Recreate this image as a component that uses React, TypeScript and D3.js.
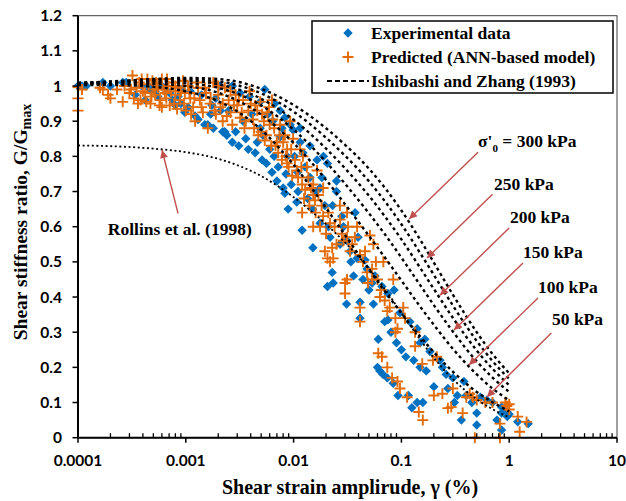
import React from 'react';
import * as d3 from 'd3';

// ---------- data ----------
const xTickValues = [0.0001, 0.001, 0.01, 0.1, 1, 10];
const xTickLabels = ['0.0001', '0.001', '0.01', '0.1', '1', '10'];
const yTickValues = [0, 0.1, 0.2, 0.3, 0.4, 0.5, 0.6, 0.7, 0.8, 0.9, 1, 1.1, 1.2];
const yTickLabels = ['0', '0.1', '0.2', '0.3', '0.4', '0.5', '0.6', '0.7', '0.8', '0.9', '1', '1.1', '1.2'];

// shear strain (%) grid for the reference curves
const curveStrain = [0.0001, 0.0002, 0.0005, 0.001, 0.002, 0.005, 0.01, 0.02, 0.03, 0.05, 0.07, 0.1, 0.15, 0.2, 0.3, 0.5, 0.7, 1.0];
const iz50 = [1.003, 1.003, 0.998, 0.985, 0.957, 0.876, 0.776, 0.653, 0.576, 0.479, 0.417, 0.354, 0.287, 0.243, 0.188, 0.130, 0.101, 0.075];
const iz100 = [1.005, 1.007, 1.006, 1.000, 0.981, 0.919, 0.838, 0.733, 0.664, 0.574, 0.513, 0.447, 0.372, 0.321, 0.253, 0.180, 0.140, 0.106];
const iz150 = [1.007, 1.009, 1.011, 1.008, 0.995, 0.945, 0.876, 0.784, 0.722, 0.638, 0.579, 0.512, 0.433, 0.377, 0.302, 0.217, 0.171, 0.130];
const iz200 = [1.008, 1.011, 1.015, 1.015, 1.005, 0.964, 0.904, 0.822, 0.766, 0.688, 0.630, 0.564, 0.482, 0.423, 0.341, 0.248, 0.196, 0.149];
const iz250 = [1.009, 1.012, 1.018, 1.019, 1.013, 0.979, 0.927, 0.853, 0.802, 0.729, 0.673, 0.607, 0.524, 0.463, 0.376, 0.275, 0.218, 0.167];
const iz300 = [1.009, 1.013, 1.020, 1.023, 1.020, 0.992, 0.946, 0.880, 0.833, 0.765, 0.711, 0.646, 0.562, 0.498, 0.407, 0.300, 0.238, 0.183];
const rollins = [0.831, 0.829, 0.822, 0.812, 0.793, 0.744, 0.684, 0.607, 0.555, 0.481, 0.423, 0.355, 0.278, 0.227, 0.167, 0.109, 0.081, 0.058];

// experimental data [strain %, G/Gmax]
const experimental: [number, number][] = [
  [0.0001, 1.0], [0.000109, 1.0], [0.000119, 1.0], [0.00017, 1.01], [0.0002, 1.0], [0.00026, 1.01], [0.00028, 1.01],
  [0.00039, 1.0], [0.00047, 0.99], [0.0006, 1.0], [0.00071, 0.98], [0.0008, 0.945], [0.00092, 0.99], [0.00098, 0.925],
  [0.00085, 0.97], [0.00055, 0.97], [0.00034, 0.975], [0.00042, 0.96],
  [0.00122, 0.915], [0.0014, 0.975], [0.0016, 0.89], [0.0019, 0.965], [0.0015, 0.89], [0.0022, 0.87], [0.00208, 1.0],
  [0.0023, 0.87], [0.0027, 1.0], [0.0027, 0.84], [0.0032, 0.98], [0.0025, 0.93], [0.00175, 0.945],
  [0.0038, 0.82], [0.0039, 0.97], [0.0044, 0.81], [0.0049, 0.955], [0.0051, 0.79], [0.0049, 0.88], [0.0054, 0.99],
  [0.0063, 0.755], [0.0064, 0.9], [0.0067, 0.95], [0.007, 0.73], [0.0075, 0.93], [0.0075, 0.855], [0.008, 0.71],
  [0.0083, 0.91], [0.0083, 0.695], [0.0089, 0.65], [0.0093, 0.89], [0.0087, 0.8], [0.0099, 0.875], [0.006, 0.82],
  [0.0107, 0.67], [0.0109, 0.755], [0.0115, 0.88], [0.0115, 0.84], [0.0122, 0.81], [0.012, 0.59], [0.0142, 0.83],
  [0.0142, 0.74], [0.015, 0.65], [0.0151, 0.54], [0.0165, 0.79], [0.0176, 0.71], [0.0176, 0.61], [0.0183, 0.74],
  [0.0189, 0.8], [0.0206, 0.78], [0.0206, 0.43], [0.0218, 0.57], [0.0228, 0.47], [0.0233, 0.44], [0.025, 0.73],
  [0.025, 0.7], [0.028, 0.63], [0.031, 0.38],
  [0.0313, 0.56], [0.0334, 0.53], [0.0372, 0.64], [0.0388, 0.51], [0.0396, 0.57], [0.0413, 0.385], [0.0413, 0.34],
  [0.046, 0.505], [0.048, 0.48], [0.0535, 0.44], [0.057, 0.46], [0.061, 0.28], [0.063, 0.19], [0.066, 0.43],
  [0.0675, 0.18], [0.074, 0.17], [0.075, 0.41], [0.075, 0.335], [0.084, 0.155], [0.0855, 0.42], [0.093, 0.12],
  [0.097, 0.355], [0.06, 0.2],
  [0.116, 0.12], [0.12, 0.33], [0.14, 0.1], [0.14, 0.31], [0.149, 0.27], [0.158, 0.1], [0.149, 0.2], [0.2, 0.145],
  [0.24, 0.2], [0.26, 0.18], [0.184, 0.245], [0.165, 0.28], [0.125, 0.085], [0.228, 0.22],
  [0.3, 0.17], [0.31, 0.1], [0.36, 0.05], [0.38, 0.16], [0.45, 0.1], [0.5, 0.07], [0.5, 0.036], [0.54, 0.115],
  [0.62, 0.107], [0.7, 0.1], [0.85, 0.087], [0.85, 0.07], [0.85, 0.022], [0.92, 0.079], [0.95, 0.073], [0.96, 0.06],
  [1.0, 0.067], [1.2, 0.045], [1.5, 0.04], [0.77, 0.05],
  [0.00045, 1.0], [0.00052, 0.985], [0.00065, 0.99], [0.00075, 0.96], [0.0009, 0.95], [0.00105, 0.94], [0.0011, 0.985],
  [0.0013, 0.905], [0.0017, 0.92], [0.0018, 0.88], [0.0021, 0.93], [0.0024, 0.86], [0.0029, 0.87], [0.0031, 0.83],
  [0.0034, 0.9], [0.0036, 0.85], [0.0041, 0.92], [0.0046, 0.84], [0.0052, 0.86], [0.0056, 0.78], [0.0058, 0.92],
  [0.0066, 0.8], [0.0072, 0.77], [0.0078, 0.88], [0.0085, 0.75], [0.0095, 0.72], [0.0102, 0.8], [0.011, 0.7],
  [0.0128, 0.77], [0.0135, 0.68], [0.016, 0.7], [0.0195, 0.66], [0.021, 0.6], [0.023, 0.66], [0.027, 0.55],
  [0.029, 0.6], [0.034, 0.5], [0.036, 0.46], [0.044, 0.45], [0.05, 0.42], [0.055, 0.38], [0.07, 0.33], [0.08, 0.3],
  [0.09, 0.27], [0.1, 0.25], [0.11, 0.23], [0.13, 0.22], [0.17, 0.19], [0.27, 0.14], [0.33, 0.12], [0.4, 0.12],
];

// ANN-predicted data [strain %, G/Gmax]
const predicted: [number, number][] = [
  [0.0001, 0.997], [0.0001, 0.965], [0.0001, 0.93], [0.000109, 0.99], [0.00016, 0.995], [0.00017, 0.99], [0.00019, 0.975],
  [0.0002, 0.965], [0.00023, 0.99], [0.00026, 0.955], [0.00027, 1.0], [0.0003, 0.98],
  [0.00032, 1.03], [0.00035, 0.995], [0.00038, 0.96], [0.00039, 1.02], [0.00042, 0.98], [0.00045, 1.005], [0.00047, 0.95],
  [0.00049, 1.015], [0.00052, 0.975], [0.00055, 0.995], [0.00058, 0.96], [0.0006, 1.02], [0.00064, 0.98], [0.00069, 1.0],
  [0.00071, 0.945], [0.00075, 1.01], [0.0008, 0.975], [0.00085, 0.995], [0.00088, 0.96], [0.00094, 1.015], [0.00098, 0.98],
  [0.00036, 0.95], [0.0006, 0.94],
  [0.00105, 1.0], [0.0011, 0.965], [0.00117, 0.94], [0.00122, 0.9], [0.0013, 0.995], [0.00135, 0.96], [0.00144, 0.925],
  [0.00154, 0.98], [0.0016, 0.88], [0.00168, 0.95], [0.0018, 1.01], [0.0019, 0.92], [0.002, 0.975], [0.0021, 0.94],
  [0.0022, 0.9], [0.0023, 0.995], [0.0025, 0.96], [0.0026, 0.925], [0.0027, 0.89], [0.0029, 0.975], [0.003, 0.945],
  [0.0032, 0.91],
  [0.0034, 0.96], [0.0035, 0.88], [0.0038, 0.93], [0.0039, 0.985], [0.0042, 0.905], [0.0044, 0.945], [0.0047, 0.86],
  [0.0049, 0.955], [0.0051, 0.92], [0.0054, 0.845], [0.0057, 0.925], [0.006, 0.89], [0.0063, 0.96], [0.0064, 0.905],
  [0.0068, 0.83], [0.007, 0.84], [0.0075, 0.89], [0.0078, 0.79], [0.0083, 0.86], [0.0087, 0.82], [0.0087, 0.78],
  [0.0093, 0.9], [0.0097, 0.745], [0.0099, 0.85],
  [0.0107, 0.76], [0.0115, 0.82], [0.012, 0.72], [0.0122, 0.8], [0.0128, 0.705], [0.0133, 0.77], [0.012, 0.64],
  [0.0152, 0.72], [0.0152, 0.69], [0.0158, 0.675], [0.0152, 0.6], [0.0165, 0.76], [0.0176, 0.6], [0.0188, 0.71],
  [0.0188, 0.63], [0.0195, 0.53], [0.0206, 0.51], [0.0218, 0.61], [0.0218, 0.5], [0.0228, 0.54], [0.0233, 0.51],
  [0.0269, 0.66], [0.028, 0.58], [0.03, 0.44], [0.03, 0.41],
  [0.0313, 0.64], [0.0313, 0.57], [0.0313, 0.45], [0.0334, 0.53], [0.0388, 0.6], [0.0413, 0.52], [0.0413, 0.37],
  [0.0413, 0.33], [0.048, 0.47], [0.049, 0.44], [0.0511, 0.575], [0.0535, 0.48], [0.0535, 0.45], [0.055, 0.55],
  [0.061, 0.24], [0.0633, 0.4], [0.066, 0.23], [0.068, 0.5], [0.074, 0.36], [0.074, 0.2], [0.082, 0.17], [0.084, 0.45],
  [0.088, 0.34], [0.088, 0.3], [0.092, 0.31], [0.092, 0.16], [0.097, 0.14],
  [0.104, 0.37], [0.108, 0.34], [0.113, 0.115], [0.134, 0.3], [0.134, 0.26], [0.145, 0.073], [0.156, 0.21],
  [0.158, 0.05], [0.196, 0.22], [0.213, 0.23], [0.2, 0.12], [0.24, 0.125], [0.27, 0.084], [0.29, 0.087], [0.3, 0.14],
  [0.37, 0.07], [0.4, 0.115], [0.46, 0.115], [0.48, 0.0], [0.5, 0.107], [0.6, 0.1], [0.7, 0.1], [0.82, 0.04],
  [0.82, 0.0], [0.92, 0.1], [0.95, 0.09], [1.0, 0.095], [1.0, 0.08], [1.2, 0.06], [1.25, 0.017], [1.45, 0.045],
  [0.43, 0.125],
  [0.00031, 0.99], [0.00033, 0.965], [0.00037, 1.01], [0.0004, 0.985], [0.00043, 0.955], [0.00044, 1.02], [0.00048, 0.97],
  [0.0005, 0.99], [0.00053, 1.01], [0.00057, 0.945], [0.00062, 0.99], [0.00066, 0.965], [0.00067, 1.02], [0.00073, 0.985],
  [0.00078, 0.95], [0.0008, 1.0], [0.00083, 0.935], [0.0009, 0.985], [0.00096, 0.95], [0.001, 0.93], [0.00108, 0.98],
  [0.00112, 0.92], [0.0012, 0.965], [0.00126, 1.01], [0.0014, 0.94], [0.0015, 0.995], [0.0017, 0.965], [0.00185, 0.93],
  [0.002, 1.0], [0.0022, 0.95], [0.0024, 0.915], [0.0026, 0.985], [0.0028, 0.945], [0.0031, 0.96], [0.0033, 0.925],
  [0.0036, 0.9], [0.004, 0.95], [0.0043, 0.88], [0.0046, 0.93], [0.005, 0.87], [0.0053, 0.9], [0.0056, 0.86],
  [0.0059, 0.94], [0.0062, 0.83], [0.0066, 0.88], [0.0072, 0.81], [0.0074, 0.86], [0.008, 0.84], [0.0085, 0.8],
  [0.009, 0.77], [0.0095, 0.82], [0.0103, 0.79], [0.011, 0.74], [0.0118, 0.77], [0.0125, 0.68], [0.0137, 0.74],
  [0.014, 0.66], [0.0145, 0.71], [0.016, 0.64], [0.017, 0.69], [0.0182, 0.66], [0.02, 0.58], [0.021, 0.64],
  [0.024, 0.6], [0.025, 0.55], [0.027, 0.62], [0.029, 0.56], [0.032, 0.6], [0.035, 0.55], [0.037, 0.57], [0.044, 0.5],
  [0.046, 0.53], [0.058, 0.5], [0.06, 0.45], [0.065, 0.42], [0.07, 0.39], [0.078, 0.37],
];

const legendLabels = ['Experimental data', 'Predicted (ANN-based model)', 'Ishibashi and Zhang (1993)'];
const stressLabels = ['300 kPa', '250 kPa', '200 kPa', '150 kPa', '100 kPa', '50 kPa'];

// ---------- layout ----------
const W = 626;
const H = 501;
const PL = 78, PR = 617, PT = 15.7, PB = 437.7;
const BLUE = '#0070C0';
const ORANGE = '#E36C09';
const ARROW = '#C0504D';
const SERIF = '"Liberation Serif", "Times New Roman", serif';
const SANS = 'Lato, "Open Sans", sans-serif';

// annotation anchors in data units: label (x,y), arrow start, arrow end
const stressAnnot = [
  { tx: 0.514, ty: 0.826, fx: 0.514, fy: 0.812, ex: 0.118, ey: 0.622 },
  { tx: 0.723, ty: 0.704, fx: 0.70, fy: 0.692, ex: 0.173, ey: 0.511 },
  { tx: 1.017, ty: 0.6105, fx: 0.999, fy: 0.596, ex: 0.228, ey: 0.405 },
  { tx: 1.343, ty: 0.511, fx: 1.343, fy: 0.497, ex: 0.3076, ey: 0.306 },
  { tx: 1.849, ty: 0.411, fx: 1.849, fy: 0.397, ex: 0.4236, ey: 0.207 },
  { tx: 2.495, ty: 0.32, fx: 2.46, fy: 0.298, ex: 0.622, ey: 0.116 },
];
const rollinsAnnot = { tx: 0.00088, ty: 0.576, fx: 0.000847, fy: 0.638, ex: 0.000602, ey: 0.818 };

export default function App() {
  const x = d3.scaleLog().domain([1e-4, 10]).range([PL, PR]);
  const y = d3.scaleLinear().domain([0, 1.2]).range([PB, PT]);

  const line = d3
    .line<number>()
    .x((_, i) => x(curveStrain[i]))
    .y((d) => y(d))
    .curve(d3.curveMonotoneX);

  const izSets = [iz50, iz100, iz150, iz200, iz250, iz300];

  const minorTicks: number[] = [];
  xTickValues.slice(0, -1).forEach((d) => {
    for (let k = 2; k <= 9; k++) minorTicks.push(d * k);
  });

  const diamond = d3.symbol(d3.symbolSquare, 44)() as string;
  const plus = 'M-5.5,0H5.5M0,-5.5V5.5';

  return (
    <svg
      width={W}
      height={H}
      viewBox={`0 0 ${W} ${H}`}
      style={{ position: 'absolute', left: 0, top: 0, background: '#fff' }}
    >
      <defs>
        <marker
          id="arr"
          viewBox="0 0 10 10"
          refX={10}
          refY={5}
          markerUnits="userSpaceOnUse"
          markerWidth={10}
          markerHeight={8}
          orient="auto"
        >
          <path d="M0,0L10,5L0,10z" fill={ARROW} />
        </marker>
      </defs>
      <rect x={0} y={0} width={W} height={H} fill="#fff" />

      {/* plot frame */}
      <rect x={PL} y={PT} width={PR - PL} height={PB - PT} fill="none" stroke="#404040" strokeWidth={1} />

      {/* experimental */}
      <g fill={BLUE}>
        {experimental.map((d, i) => (
          <path key={i} d={diamond} transform={`translate(${x(d[0])},${y(d[1])}) rotate(45)`} />
        ))}
      </g>
      {/* predicted */}
      <g stroke={ORANGE} strokeWidth={1.9} fill="none">
        {predicted.map((d, i) => (
          <path key={i} d={plus} transform={`translate(${x(d[0])},${y(d[1])})`} />
        ))}
      </g>

      {/* Ishibashi & Zhang curves */}
      <g fill="none" stroke="#000" strokeWidth={2.4} strokeDasharray="3 3.2">
        {izSets.map((s, i) => (
          <path key={i} d={line(s) as string} />
        ))}
      </g>
      {/* Rollins */}
      <path d={line(rollins) as string} fill="none" stroke="#000" strokeWidth={1.8} strokeDasharray="2 2.6" />

      {/* axes */}
      <line x1={PL} x2={PR} y1={PB} y2={PB} stroke="#000" strokeWidth={2} />
      <line x1={PL} x2={PL} y1={PT} y2={PB} stroke="#000" strokeWidth={2} />
      {xTickValues.map((v, i) => (
        <g key={i}>
          <line x1={x(v)} x2={x(v)} y1={PB} y2={PB + 5} stroke="#000" strokeWidth={1.5} />
          <text
            x={x(v)}
            y={PB + 28}
            textAnchor="middle"
            fontFamily={SANS}
            fontWeight="bold"
            fontSize={15.5}
          >
            {xTickLabels[i]}
          </text>
        </g>
      ))}
      {minorTicks.map((v, i) => (
        <line key={i} x1={x(v)} x2={x(v)} y1={PB} y2={PB - 4.5} stroke="#000" strokeWidth={1.3} />
      ))}
      {yTickValues.map((v, i) => (
        <g key={i}>
          <line x1={PL - 5.5} x2={PL} y1={y(v)} y2={y(v)} stroke="#000" strokeWidth={1.5} />
          <text
            x={PL - 16}
            y={y(v)}
            dy="0.36em"
            textAnchor="end"
            fontFamily={SANS}
            fontWeight="bold"
            fontSize={15.5}
          >
            {yTickLabels[i]}
          </text>
        </g>
      ))}

      {/* axis titles */}
      <text
        x={350}
        y={494}
        textAnchor="middle"
        fontFamily={SERIF}
        fontWeight="bold"
        fontSize={20}
      >
        Shear strain amplirude, γ (%)
      </text>
      <text
        transform={`translate(27,222) rotate(-90)`}
        textAnchor="middle"
        fontFamily={SERIF}
        fontWeight="bold"
        fontSize={19.5}
      >
        Shear stiffness ratio, G/G
        <tspan dy={4} fontSize={14}>
          max
        </tspan>
      </text>

      {/* stress annotations */}
      {stressAnnot.map((a, i) => (
        <g key={i}>
          <line
            x1={x(a.fx)}
            y1={y(a.fy)}
            x2={x(a.ex)}
            y2={y(a.ey)}
            stroke={ARROW}
            strokeWidth={1.4}
            markerEnd="url(#arr)"
          />
          <text x={x(a.tx)} y={y(a.ty)} fontFamily={SERIF} fontWeight="bold" fontSize={17.5}>
            {i === 0 ? (
              <>
                σ'
                <tspan dy={5} fontSize={11}>
                  0
                </tspan>
                <tspan dy={-5}> = {stressLabels[i]}</tspan>
              </>
            ) : (
              stressLabels[i]
            )}
          </text>
        </g>
      ))}
      <line
        x1={x(rollinsAnnot.fx)}
        y1={y(rollinsAnnot.fy)}
        x2={x(rollinsAnnot.ex)}
        y2={y(rollinsAnnot.ey)}
        stroke={ARROW}
        strokeWidth={1.4}
        markerEnd="url(#arr)"
      />
      <text
        x={x(rollinsAnnot.tx)}
        y={y(rollinsAnnot.ty)}
        textAnchor="middle"
        fontFamily={SERIF}
        fontWeight="bold"
        fontSize={17.5}
      >
        Rollins et al. (1998)
      </text>

      {/* legend */}
      <g>
        <rect x={312} y={21} width={301} height={72} fill="#fff" stroke="#000" strokeWidth={1.5} />
        <path d={diamond} fill={BLUE} transform="translate(348,33) rotate(45)" />
        <path d={plus} stroke={ORANGE} strokeWidth={1.9} transform="translate(348,57)" />
        <line x1={327} x2={369} y1={81} y2={81} stroke="#000" strokeWidth={2.2} strokeDasharray="5 3" />
        {legendLabels.map((t, i) => (
          <text key={i} x={371} y={39 + i * 24} fontFamily={SERIF} fontWeight="bold" fontSize={17.5}>
            {t}
          </text>
        ))}
      </g>
    </svg>
  );
}
